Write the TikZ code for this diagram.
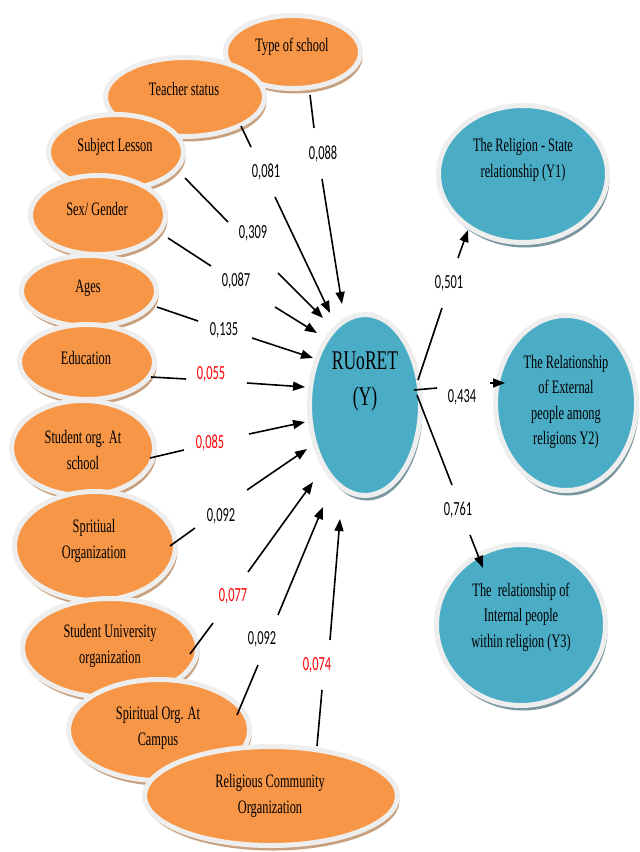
\documentclass[tikz,border=0pt]{standalone}
\usepackage{fontspec}
\newfontfamily\nodefont{Liberation Serif}[FakeStretch=0.65]
\newfontfamily\numfont{Carlito}[FakeStretch=0.62]
\usetikzlibrary{shapes.geometric,shadows,arrows.meta}
\definecolor{orfill}{RGB}{247,150,70}
\definecolor{tealfill}{RGB}{75,172,198}
\definecolor{rimgrey}{RGB}{238,238,238}
\definecolor{tanshadow}{RGB}{200,160,125}
\definecolor{tealshadow}{RGB}{120,150,160}
\definecolor{numred}{RGB}{255,0,0}
\newcommand{\mylink}[8]{%
  \coordinate (#1-s) at (#2);
  \coordinate (#1-a) at (#3);
  \node[num,text=#8] (#1-l) at (#4) {#7};
  \coordinate (#1-b) at (#5);
  \coordinate (#1-t) at (#6);
  \draw[link] (#1-s) -- (#1-a);
  \draw[arr] (#1-b) -- (#1-t);
}
\begin{document}
\begin{tikzpicture}[x=1pt,y=-1pt,
  oval/.style={ellipse, inner sep=0pt, outer sep=0pt, line width=5pt, draw=rimgrey},
  orangeoval/.style={oval, fill=orfill, drop shadow={shadow xshift=2pt, shadow yshift=-5pt, fill=tanshadow, opacity=1}},
  tealoval/.style={oval, fill=tealfill, drop shadow={shadow xshift=2pt, shadow yshift=-5pt, fill=tealshadow, opacity=1}},
  txt/.style={font=\nodefont\fontsize{19}{25.5}\selectfont, align=center, inner sep=0pt, text=black},
  bigtxt/.style={font=\nodefont\fontsize{27}{36}\selectfont, align=center, inner sep=0pt, text=black},
  num/.style={font=\numfont\fontsize{20}{24}\selectfont, inner sep=0pt},
  link/.style={line width=1.6pt, draw=black},
  arr/.style={link, -{Triangle[length=12pt,width=9pt]}},
]
\fill[white] (0,0) rectangle (640,852);
\useasboundingbox (0,0) rectangle (640,852);

% left predictor ellipses (drawn top to bottom, each over the previous)
\node[orangeoval, minimum width=135pt, minimum height=73pt] (typ) at (293,52) {};
\node[txt] (typt) at (292,47) {Type of school};
\node[orangeoval, minimum width=159pt, minimum height=79pt] (tea) at (185,97) {};
\node[txt] (teat) at (184,89) {Teacher status};
\node[orangeoval, minimum width=135pt, minimum height=75pt] (sub) at (116,152) {};
\node[txt] (subt) at (115,147) {Subject Lesson};
\node[orangeoval, minimum width=135pt, minimum height=79pt] (sex) at (98,215) {};
\node[txt] (sext) at (97,209) {Sex/ Gender};
\node[orangeoval, minimum width=135pt, minimum height=71pt] (ages) at (89,291) {};
\node[txt] (agest) at (88,288) {Ages};
\node[orangeoval, minimum width=135pt, minimum height=75pt] (edu) at (87,362) {};
\node[txt] (edut) at (86,358) {Education};
\node[orangeoval, minimum width=143pt, minimum height=95pt] (sos) at (83,448) {};
\node[txt] (sost) at (83,450) {Student org. At\\school};
\node[orangeoval, minimum width=161pt, minimum height=109pt] (spo) at (95,546) {};
\node[txt] (spot) at (94,541) {Spritiual\\Organization};
\node[orangeoval, minimum width=175pt, minimum height=99pt] (sun) at (110,648) {};
\node[txt] (sunt) at (110,646) {Student University\\organization};
\node[orangeoval, minimum width=181pt, minimum height=101pt] (soc) at (159,730) {};
\node[txt] (soct) at (158,728) {Spiritual Org. At\\Campus};
\node[orangeoval, minimum width=253pt, minimum height=99pt] (rco) at (271,796) {};
\node[txt] (rcot) at (270,796) {Religious Community\\Organization};

% central and outcome ellipses
\node[tealoval, minimum width=111pt, minimum height=181pt] (Y) at (365,405) {};
\node[bigtxt] (Yt) at (365,382) {RUoRET\\(Y)};
\node[tealoval, minimum width=169pt, minimum height=137pt] (y1) at (523,174) {};
\node[txt] (y1t) at (523,160) {The Religion - State\\relationship (Y1)};
\node[tealoval, minimum width=141pt, minimum height=175pt] (y2) at (566,403) {};
\node[txt] (y2t) at (566,402) {The Relationship\\of External\\people among\\religions Y2)};
\node[tealoval, minimum width=169pt, minimum height=161pt] (y3) at (521,625) {};
\node[txt] (y3t) at (521,617) {The~ relationship of\\Internal people\\within religion (Y3)};

% incoming paths
\mylink{c1}{310,95}{314,128}{323,154}{322,179}{342,304}{0,088}{black}
\mylink{c2}{241,126}{251,147}{266,172}{275,197}{330,313}{0,081}{black}
\mylink{c3}{185,178}{228,222}{253,233}{278,273}{323,318}{0,309}{black}
\mylink{c4}{168,238}{211,266}{236,281}{275,307}{317,333}{0,087}{black}
\mylink{c5}{157,307}{198,321}{224,330}{252,338}{313,358}{0,135}{black}
\mylink{c6}{151,377}{186,379}{211,374}{247,383}{305,387}{0,055}{numred}
\mylink{c7}{150,458}{184,450}{210,443}{249,434}{305,422}{0,085}{numred}
\mylink{c8}{170,546}{195,528}{221,516}{247,490}{307,449}{0,092}{black}
\mylink{c9}{190,654}{213,623}{233,596}{248,572}{313,482}{0,077}{numred}
\mylink{c10}{237,715}{258,665}{262,639}{278,615}{323,507}{0,092}{black}
\mylink{c11}{317,746}{322,690}{317,665}{330,640}{340,519}{0,074}{numred}

% outgoing paths
\mylink{o1}{418,380}{442,308}{449,283}{458,258}{468,230}{0,501}{black}
\mylink{o2}{414,390}{437,388}{462,397}{490,383}{505,383}{0,434}{black}
\mylink{o3}{417,395}{452,485}{458,510}{470,535}{483,568}{0,761}{black}
\end{tikzpicture}
\end{document}
